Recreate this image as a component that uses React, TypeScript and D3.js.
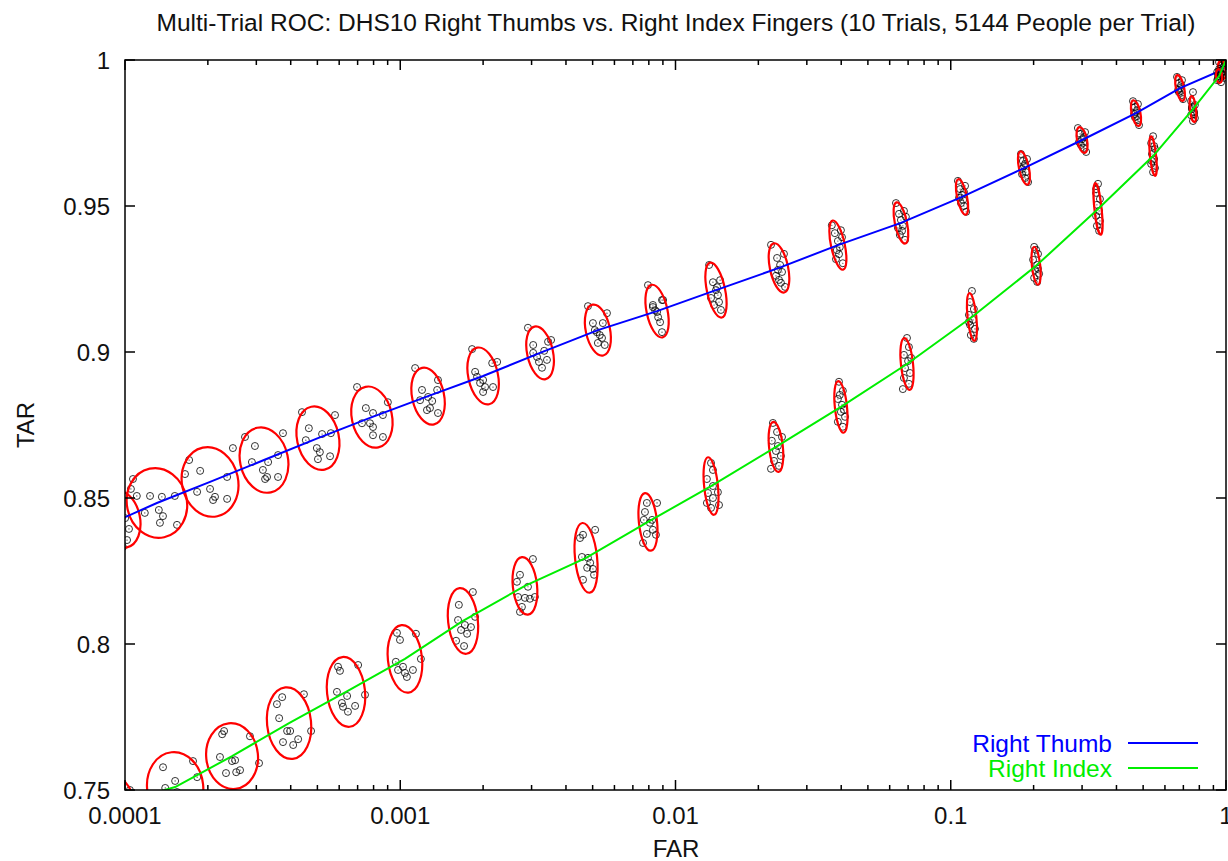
import React from "react";
import * as d3 from "d3";

// mean of the 10 trials at each threshold (FAR, TAR)
const thumbFar = [0.0000967, 0.0001306, 0.0002037, 0.0003199, 0.0005023, 0.0007889, 0.001262, 0.002, 0.003221, 0.005224, 0.00857, 0.01403, 0.02377, 0.0389, 0.06592, 0.1099, 0.1845, 0.2999, 0.471, 0.6808, 0.9672, 1];
const thumbTar = [0.8428, 0.8483, 0.8555, 0.863, 0.8705, 0.8777, 0.8849, 0.8918, 0.8997, 0.9075, 0.914, 0.9212, 0.9288, 0.9366, 0.9442, 0.9531, 0.963, 0.9726, 0.9818, 0.9904, 0.9966, 1];
// ellipse half-widths: FAR in decades, TAR in rate units
const thumbRx = [0.069, 0.109, 0.102, 0.087, 0.076, 0.073, 0.058, 0.054, 0.047, 0.044, 0.038, 0.033, 0.033, 0.025, 0.022, 0.018, 0.018, 0.018, 0.016, 0.015, 0.013, 0.009];
const thumbRy = [0.0099, 0.012, 0.012, 0.0113, 0.011, 0.0106, 0.0099, 0.0099, 0.0092, 0.0089, 0.0092, 0.0096, 0.0086, 0.0086, 0.0072, 0.0062, 0.0058, 0.0045, 0.0045, 0.0045, 0.0031, 0.0017];
// trial points: "dFAR(millidecades),dTAR(1e-4)" around each mean
const thumbTrials = [
  "22,-72 15,3 36,103 -18,-17 -36,51 -54,-68 0,34 29,-34 -29,86 7,-96",
  "-87,82 -73,24 -25,24 18,21 65,24 -44,-34 7,-24 22,-45 11,-68 73,-75",
  "-91,27 -76,75 -36,38 -47,-34 0,-24 18,-51 11,-62 62,-58 62,17 83,116",
  "-69,79 -33,48 -44,-7 -4,-34 11,-58 4,-65 51,-58 15,-7 51,17 69,92",
  "-58,89 -33,34 -44,-7 15,14 47,17 62,79 -4,-34 7,-48 0,-72 44,-62",
  "-54,103 -22,31 4,14 40,7 58,51 -7,-21 4,-34 4,-62 40,-68 -36,-21",
  "-47,96 -22,21 -29,-14 0,-3 7,-41 36,55 33,21 36,-58 -4,-48 15,-17",
  "-40,92 -29,14 -22,-3 0,-14 7,-38 0,-55 36,-38 33,44 51,48 -11,-24",
  "-44,86 -25,27 -25,0 -4,-31 7,-51 25,-24 29,38 15,7 -11,-14 40,44",
  "-36,82 -18,24 -4,-7 7,-17 0,-44 25,-51 18,24 33,58 -11,0 15,-27",
  "-33,89 -15,14 0,-3 11,-38 18,-72 18,38 -7,3 4,-21 -15,21 22,38",
  "-25,86 -11,27 0,0 7,-17 11,-41 18,-68 -7,-51 15,34 -18,-27 4,10",
  "-29,79 -7,34 4,10 11,-14 0,-41 22,-65 -11,-27 18,48 -4,-7 7,-51",
  "-22,68 -11,41 0,14 7,-7 4,-31 18,-62 -7,-48 15,27 -4,-17 11,51",
  "-18,68 -7,31 0,10 7,-10 4,-27 15,-58 -4,-41 11,41 -11,-17 18,21",
  "-15,55 -7,27 0,7 4,-10 7,-31 15,-51 -4,-21 11,38 -11,-3 7,17",
  "-11,48 -4,24 0,7 7,-14 4,-34 15,-48 -7,-21 11,31 -7,-3 4,14",
  "-15,41 -7,21 0,3 4,-10 7,-27 15,-41 -4,-17 11,27 -11,-7 7,10",
  "-11,41 -4,21 0,3 4,-10 7,-24 11,-41 -4,-14 7,31 -7,-3 4,10",
  "-11,38 -4,17 0,0 4,-10 7,-24 11,-38 -4,-14 7,27 -7,-7 4,10",
  "-11,27 -4,14 0,0 4,-7 7,-17 7,-27 -4,-10 4,21 -7,-3 4,7",
  "-7,14 0,3 4,-7 -4,-10 0,0 7,7 -4,-3 4,-14 0,10 -7,0",
];

const indexFar = [0.0000897, 0.0001521, 0.0002449, 0.0003945, 0.0006353, 0.00104, 0.00169, 0.002838, 0.004732, 0.007943, 0.01346, 0.02317, 0.0399, 0.06934, 0.1194, 0.2042, 0.3428, 0.5433, 0.7586, 0.9441, 1];
const indexTar = [0.7449, 0.751, 0.7616, 0.7729, 0.7836, 0.7949, 0.8079, 0.8199, 0.8295, 0.8418, 0.8541, 0.8675, 0.8812, 0.8959, 0.912, 0.9295, 0.949, 0.9671, 0.9832, 0.9945, 1];
const indexRx = [0.08, 0.102, 0.094, 0.08, 0.069, 0.062, 0.054, 0.044, 0.04, 0.033, 0.025, 0.025, 0.022, 0.022, 0.016, 0.015, 0.013, 0.011, 0.011, 0.011, 0.009];
const indexRy = [0.0103, 0.012, 0.0113, 0.0123, 0.012, 0.0116, 0.0113, 0.0099, 0.012, 0.0099, 0.0099, 0.0086, 0.0089, 0.0089, 0.0082, 0.0065, 0.0089, 0.0068, 0.0045, 0.0024, 0.0017];
const indexTrials = [
  "-54,86 -18,34 11,68 36,27 54,-17 0,-34 -36,-51 18,-68 65,51 -29,0",
  "-44,68 0,21 65,89 -36,-3 7,-17 -73,-34 29,-62 54,-27 -18,-86 80,34",
  "-36,75 65,68 -44,-3 0,-17 -22,-58 15,-55 29,-48 98,-24 -29,86 11,-14",
  "-25,89 -44,65 54,99 -36,17 -7,-27 4,-27 -22,-65 15,-75 33,-55 80,-27",
  "-29,86 -22,72 44,92 -33,0 4,-14 -15,-38 -11,-51 7,-68 33,-48 69,-10",
  "-29,89 -18,65 40,86 -33,-10 -7,-27 -25,-38 0,-48 7,-62 29,-38 58,0",
  "-15,55 36,99 -18,3 7,-14 -7,-31 15,-44 29,-21 -25,-68 4,-86 44,14",
  "29,92 -18,38 -25,-38 0,-41 18,-44 36,-38 -11,-72 -18,-89 11,-3 -29,14",
  "33,96 -11,79 -15,3 7,0 4,-34 25,-38 29,-58 -11,-75 15,-17 -22,68",
  "33,65 -4,65 -11,34 -15,7 7,-3 18,-27 -4,-41 29,-44 -18,-72 15,7",
  "0,79 7,55 -15,24 7,0 25,-21 -11,-24 7,-41 -15,-58 29,-65 0,-75",
  "-11,82 4,51 -15,21 7,3 0,-14 18,-31 -7,-48 11,-65 -18,-75 22,34",
  "-7,86 7,55 -11,27 4,7 0,-17 15,-34 -11,-51 7,-68 -4,41 11,-10",
  "0,89 7,58 -11,31 4,10 -7,-14 11,-31 -11,-48 7,-68 -15,-86 15,21",
  "0,89 -7,51 7,27 -11,7 4,-10 -7,-27 11,-41 -4,-62 7,-75 -11,-17",
  "-7,65 7,41 -11,21 4,3 -4,-14 11,-27 -7,-41 4,-55 0,55 7,-10",
  "0,86 -7,55 7,34 -4,14 4,-7 -7,-24 7,-41 -4,-58 4,-75 -7,68",
  "0,68 -7,44 7,24 -4,7 4,-10 -7,-27 7,-41 0,-55 -4,-17 4,34",
  "0,58 -7,27 7,14 -4,0 4,-10 -7,-21 7,-31 0,-41 -4,7 4,-17",
  "0,24 -7,14 7,7 -4,0 4,-7 -7,-14 7,-21 0,17 -4,-10 4,-3",
  "-7,10 0,3 4,-7 -4,-10 0,0 7,3 -4,-3 4,-14 0,7 -7,0",
];

const xTicks = [0.0001, 0.001, 0.01, 0.1, 1];
const xTickLabels = ["0.0001", "0.001", "0.01", "0.1", "1"];
const yTicks = [0.75, 0.8, 0.85, 0.9, 0.95, 1];
const yTickLabels = ["0.75", "0.8", "0.85", "0.9", "0.95", "1"];

const W = 1228;
const H = 861;
const M = { left: 125, right: 2, top: 60, bottom: 71 };
const FONT = "'Liberation Sans', Arial, Helvetica, sans-serif";
const BLUE = "#0000ff";
const GREEN = "#00ee00";

const x = d3.scaleLog().domain([0.0001, 1]).range([M.left, W - M.right]);
const y = d3.scaleLinear().domain([0.75, 1]).range([H - M.bottom, M.top]);

const minorTicks = d3.range(-4, 0).flatMap((e) => d3.range(2, 10).map((k) => k * Math.pow(10, e)));

function parseTrials(s) {
  return s.split(" ").map((p) => p.split(",").map(Number));
}

function Series({ far, tar, rx, ry, trials, color, tilt }) {
  const line = d3
    .line()
    .x((d) => x(d[0]))
    .y((d) => y(d[1]));
  const pts = far.map((f, i) => [f, tar[i]]);
  return (
    <g>
      {pts.map(([f, t], i) =>
        parseTrials(trials[i]).map(([dx, dy], j) => {
          const px = x(f * Math.pow(10, dx / 1000));
          const py = y(t + dy / 10000);
          return (
            <g key={`${i}-${j}`}>
              <circle cx={px} cy={py} r={3.5} fill="none" stroke="#000" strokeWidth={0.8} />
              <circle cx={px} cy={py} r={0.6} fill="#333" />
            </g>
          );
        })
      )}
      {pts.map(([f, t], i) => {
        const cx = x(f);
        const cy = y(t);
        const erx = x(f * Math.pow(10, rx[i])) - cx;
        const ery = y(t - ry[i]) - cy;
        return (
          <ellipse
            key={i}
            cx={cx}
            cy={cy}
            rx={erx}
            ry={ery}
            transform={`rotate(${tilt} ${cx} ${cy})`}
            fill="none"
            stroke="#ff0000"
            strokeWidth={2.2}
          />
        );
      })}
      <path d={line(pts)} fill="none" stroke={color} strokeWidth={2} />
    </g>
  );
}

export default function App() {
  const x0 = M.left;
  const x1 = W - M.right;
  const y0 = M.top;
  const y1 = H - M.bottom;
  return (
    <svg
      width={W}
      height={H}
      style={{ position: "absolute", left: 0, top: 0, background: "#fff" }}
      fontFamily={FONT}
    >
      <defs>
        <clipPath id="plot">
          <rect x={x0} y={y0} width={x1 - x0} height={y1 - y0} />
        </clipPath>
      </defs>

      <text x={676} y={31} textAnchor="middle" fontSize={24.5} fill="#111">
        Multi-Trial ROC: DHS10 Right Thumbs vs. Right Index Fingers (10 Trials, 5144 People per Trial)
      </text>

      <g clipPath="url(#plot)">
        <Series far={thumbFar} tar={thumbTar} rx={thumbRx} ry={thumbRy} trials={thumbTrials} color={BLUE} tilt={-12} />
        <Series far={indexFar} tar={indexTar} rx={indexRx} ry={indexRy} trials={indexTrials} color={GREEN} tilt={-6} />
      </g>

      {/* ticks */}
      <g stroke="#000" strokeWidth={1.5}>
        {xTicks.map((t) => (
          <g key={t}>
            <line x1={x(t)} x2={x(t)} y1={y1} y2={y1 - 10} />
            <line x1={x(t)} x2={x(t)} y1={y0} y2={y0 + 10} />
          </g>
        ))}
        {minorTicks.map((t) => (
          <g key={t}>
            <line x1={x(t)} x2={x(t)} y1={y1} y2={y1 - 5} />
            <line x1={x(t)} x2={x(t)} y1={y0} y2={y0 + 5} />
          </g>
        ))}
        {yTicks.map((t) => (
          <g key={t}>
            <line x1={x0} x2={x0 + 10} y1={y(t)} y2={y(t)} />
            <line x1={x1} x2={x1 - 10} y1={y(t)} y2={y(t)} />
          </g>
        ))}
      </g>
      <rect x={x0} y={y0} width={x1 - x0} height={y1 - y0} fill="none" stroke="#000" strokeWidth={1.5} />

      <g fontSize={24} fill="#111">
        {xTicks.map((t, i) => (
          <text key={t} x={x(t)} y={y1 + 34} textAnchor="middle">
            {xTickLabels[i]}
          </text>
        ))}
        {yTicks.map((t, i) => (
          <text key={t} x={110} y={y(t) + 8.5} textAnchor="end">
            {yTickLabels[i]}
          </text>
        ))}
        <text x={676} y={857} textAnchor="middle">FAR</text>
        <text transform={`translate(34 ${(y0 + y1) / 2}) rotate(-90)`} textAnchor="middle">TAR</text>
      </g>

      {/* legend */}
      <g fontSize={24.5}>
        <text x={1112} y={752} textAnchor="end" fill={BLUE}>Right Thumb</text>
        <line x1={1128} x2={1198} y1={743} y2={743} stroke={BLUE} strokeWidth={2} />
        <text x={1112} y={777} textAnchor="end" fill={GREEN}>Right Index</text>
        <line x1={1128} x2={1198} y1={768} y2={768} stroke={GREEN} strokeWidth={2} />
      </g>
    </svg>
  );
}
